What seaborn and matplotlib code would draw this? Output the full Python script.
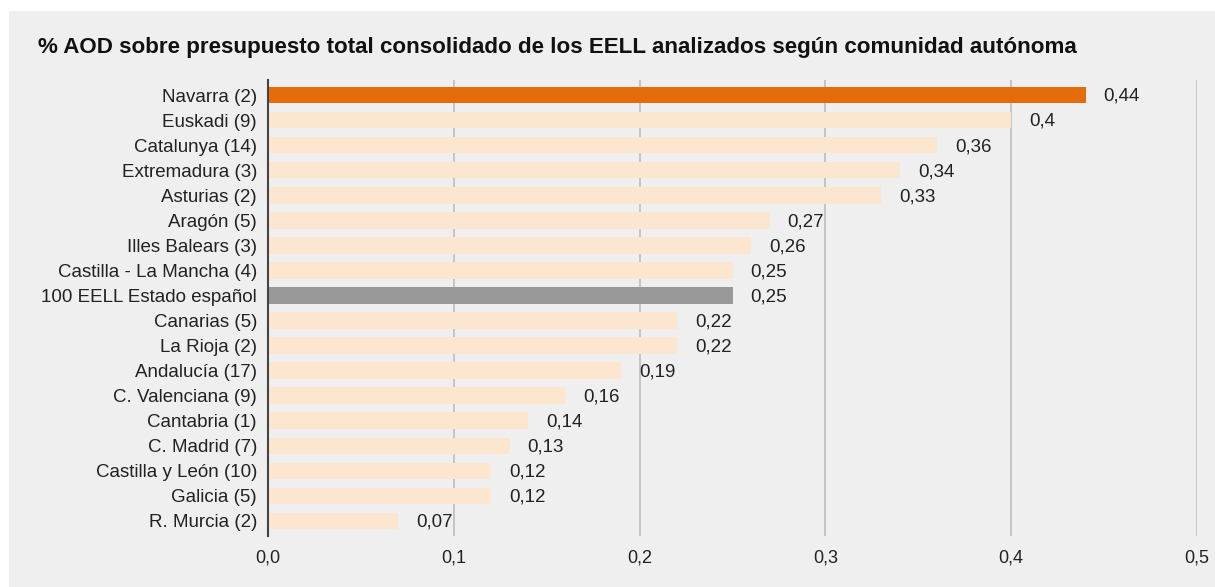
#!/usr/bin/env python3
import matplotlib
matplotlib.use("Agg")
import pandas as pd
import seaborn as sns
from matplotlib import pyplot as plt
from matplotlib.patches import Rectangle

TITLE = "% AOD sobre presupuesto total consolidado de los EELL analizados según comunidad autónoma"

regions = [
    "Navarra (2)", "Euskadi (9)", "Catalunya (14)", "Extremadura (3)", "Asturias (2)",
    "Aragón (5)", "Illes Balears (3)", "Castilla - La Mancha (4)", "100 EELL Estado español",
    "Canarias (5)", "La Rioja (2)", "Andalucía (17)", "C. Valenciana (9)", "Cantabria (1)",
    "C. Madrid (7)", "Castilla y León (10)", "Galicia (5)", "R. Murcia (2)",
]
values = [0.44, 0.40, 0.36, 0.34, 0.33, 0.27, 0.26, 0.25, 0.25,
          0.22, 0.22, 0.19, 0.16, 0.14, 0.13, 0.12, 0.12, 0.07]
x_ticks = [0.0, 0.1, 0.2, 0.3, 0.4, 0.5]
x_ticklabels = ["0,0", "0,1", "0,2", "0,3", "0,4", "0,5"]

BG = "#efefef"
ORANGE = "#e46c0a"
PEACH = "#fde6cf"
GREY = "#999999"
TXT = "#222222"


def fmt(v):
    s = f"{v:.2f}".rstrip("0")
    if s.endswith("."):
        s += "0"
    return s.replace(".", ",")


def main():
    sns.set_style("white")
    plt.rcParams["font.family"] = ["Liberation Sans", "DejaVu Sans"]

    df = pd.DataFrame({"region": regions, "value": values})
    palette = {r: PEACH for r in regions}
    palette["Navarra (2)"] = ORANGE
    palette["100 EELL Estado español"] = GREY

    fig = plt.figure(figsize=(12.15, 5.87), dpi=100, facecolor="white")
    fig.patches.append(Rectangle((9 / 1215, 0), 1, 1 - 11 / 587, transform=fig.transFigure,
                                 facecolor=BG, edgecolor="none", zorder=-10))
    ax = fig.add_axes([268 / 1215, 1 - 536 / 587, (1197 - 268) / 1215, (536 - 80) / 587])
    ax.set_facecolor(BG)

    sns.barplot(data=df, x="value", y="region", hue="region", palette=palette,
                legend=False, width=0.66, saturation=1, linewidth=0, edgecolor="none",
                ax=ax, zorder=2)

    for i, v in enumerate(values):
        ax.annotate(fmt(v), (v, i), xytext=(13, -1), textcoords="offset points",
                    va="center", ha="left", fontsize=13.5, color=TXT)

    ax.set_xlim(0, 0.5)
    ax.set_ylim(17.6, -0.6)
    ax.set_xticks(x_ticks)
    ax.set_xticklabels(x_ticklabels)
    for t in x_ticks[1:]:
        ax.axvline(t, color="#bdbdbd", lw=1.2, zorder=1)
    ax.tick_params(axis="x", length=0, pad=10, labelsize=13, labelcolor=TXT)
    ax.tick_params(axis="y", length=0, pad=8, labelsize=13.5, labelcolor=TXT)
    ax.set_xlabel("")
    ax.set_ylabel("")
    for side in ["top", "right", "bottom"]:
        ax.spines[side].set_visible(False)
    ax.spines["left"].set_color("#444444")
    ax.spines["left"].set_linewidth(1.5)
    ax.spines["left"].set_zorder(3)

    fig.text(38 / 1215, 1 - 47 / 587, TITLE, fontsize=16.1, fontweight="bold",
             color="#111111", va="center", ha="left")

    fig.savefig("out.png", dpi=100, facecolor="white")
    plt.close(fig)


if __name__ == "__main__":
    main()
